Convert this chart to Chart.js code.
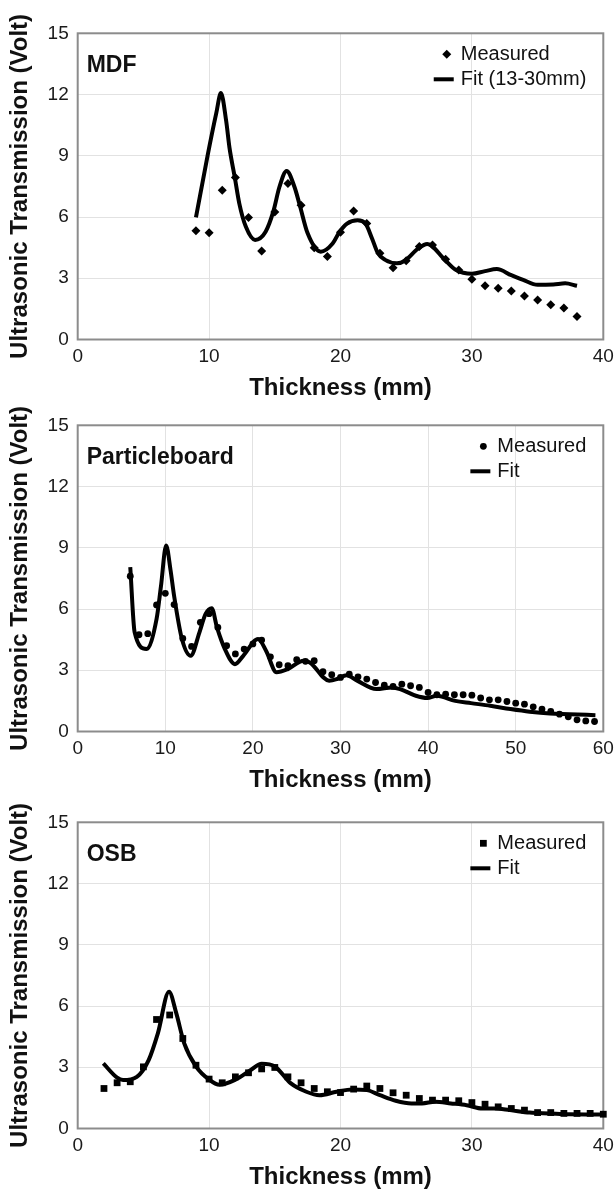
<!DOCTYPE html>
<html>
<head>
<meta charset="utf-8">
<script src="https://cdn.jsdelivr.net/npm/chart.js@4.4.1/dist/chart.umd.min.js"></script>
<style>
    html, body { margin: 0; padding: 0; background: #fff; }
    #wrap { position: relative; width: 615px; height: 1192px; overflow: hidden; }
    canvas { position: absolute; left: 0; }
</style>
</head>
<body>
<div id="wrap">
    <canvas id="chartMdf" width="615" height="400" style="top:0px"></canvas>
    <canvas id="chartPb" width="615" height="400" style="top:392px"></canvas>
    <canvas id="chartOsb" width="615" height="400" style="top:789px"></canvas>
</div>
<script>
// valores

// MDF
const mdfThickness = [9, 10, 11, 12, 13, 14, 15, 16, 17, 18, 19, 20, 21, 22, 23, 24, 25, 26, 27, 28, 29, 30, 31, 32, 33, 34, 35, 36, 37, 38]
const mdfMeasured = [5.33, 5.23, 7.31, 7.93, 5.98, 4.33, 6.25, 7.64, 6.58, 4.50, 4.06, 5.25, 6.30, 5.68, 4.22, 3.52, 3.86, 4.55, 4.63, 3.93, 3.40, 2.95, 2.63, 2.51, 2.38, 2.13, 1.94, 1.70, 1.54, 1.13]
const mdfFitX = [9, 9.9, 10.55, 10.9, 11.3, 11.55, 11.95, 12.3, 12.8, 13.5, 14.3, 14.9, 15.35, 15.9, 16.5, 16.9, 17.5, 18.5, 19.4, 19.9, 20.5, 21.3, 21.9, 22.4, 22.85, 23.4, 24.3, 24.9, 25.9, 26.6, 27.9, 28.8, 30, 31, 31.9, 33, 33.9, 35, 36.2, 37.1, 38]
const mdfFitY = [5.98, 9.06, 11.1, 12.07, 10.7, 9.4, 7.96, 6.66, 5.52, 4.88, 5.28, 6.3, 7.47, 8.26, 7.47, 6.58, 5.2, 4.3, 4.7, 5.25, 5.68, 5.84, 5.68, 4.95, 4.22, 3.9, 3.73, 3.86, 4.45, 4.68, 3.93, 3.4, 3.22, 3.35, 3.45, 3.15, 2.92, 2.68, 2.7, 2.75, 2.63]

// Particleboard
const pbThickness = [6, 7, 8, 9, 10, 11, 12, 13, 14, 15, 16, 17, 18, 19, 20, 21, 22, 23, 24, 25, 26, 27, 28, 29, 30, 31, 32, 33, 34, 35, 36, 37, 38, 39, 40, 41, 42, 43, 44, 45, 46, 47, 48, 49, 50, 51, 52, 53, 54, 55, 56, 57, 58, 59]
const pbMeasured = [7.61, 4.74, 4.79, 6.2, 6.77, 6.22, 4.56, 4.17, 5.35, 5.77, 5.1, 4.2, 3.8, 4.04, 4.29, 4.48, 3.66, 3.27, 3.22, 3.52, 3.44, 3.47, 2.93, 2.78, 2.65, 2.81, 2.68, 2.57, 2.4, 2.27, 2.21, 2.32, 2.24, 2.16, 1.91, 1.8, 1.83, 1.8, 1.8, 1.78, 1.64, 1.55, 1.55, 1.47, 1.39, 1.34, 1.21, 1.1, 0.98, 0.85, 0.72, 0.57, 0.52, 0.49]
const pbFitX = [6, 6.5, 7.85, 9, 9.5, 10.1, 10.6, 11, 11.9, 12.9, 13.9, 14.6, 15.3, 15.9, 16.8, 17.95, 18.9, 20.6, 21.5, 22.7, 24, 25.8, 26.5, 28.7, 29.6, 30.7, 31.9, 34.1, 35.9, 36.8, 38.6, 39.9, 41, 43.1, 44.9, 47.1, 49.4, 51.6, 53.9, 56.1, 59.1]
const pbFitY = [8.05, 4.86, 4.04, 5.5, 7.1, 9.11, 7.9, 6.66, 4.53, 3.71, 4.86, 5.76, 6.04, 5.1, 4.04, 3.3, 3.71, 4.53, 3.96, 2.9, 3.06, 3.47, 3.38, 2.49, 2.57, 2.76, 2.49, 2.08, 2.16, 2.08, 1.75, 1.64, 1.75, 1.5, 1.39, 1.26, 1.1, 0.97, 0.88, 0.85, 0.8]

// OSB
const osbThickness = [2, 3, 4, 5, 6, 7, 8, 9, 10, 11, 12, 13, 14, 15, 16, 17, 18, 19, 20, 21, 22, 23, 24, 25, 26, 27, 28, 29, 30, 31, 32, 33, 34, 35, 36, 37, 38, 39, 40]
const osbMeasured = [1.96, 2.24, 2.29, 3.02, 5.34, 5.56, 4.41, 3.1, 2.42, 2.24, 2.53, 2.73, 2.92, 2.99, 2.53, 2.24, 1.96, 1.8, 1.76, 1.93, 2.08, 1.96, 1.75, 1.63, 1.47, 1.39, 1.39, 1.36, 1.27, 1.19, 1.06, 0.98, 0.9, 0.78, 0.78, 0.74, 0.74, 0.74, 0.7]
const osbFitX = [1.95, 3, 3.45, 4.5, 5.4, 6.1, 6.95, 7.5, 8.1, 9, 10, 10.8, 12, 13.2, 14, 15, 16.2, 17.4, 18.4, 19.7, 20.9, 22, 23, 24.2, 25.4, 26.2, 27.2, 28.4, 29.6, 30.8, 31.7, 32.9, 34.4, 35.9, 37.4, 40]
const osbFitY = [3.19, 2.49, 2.37, 2.53, 3.35, 4.66, 6.7, 5.65, 4.18, 3.04, 2.39, 2.14, 2.39, 2.88, 3.17, 3.04, 2.22, 1.8, 1.63, 1.8, 1.91, 1.88, 1.63, 1.36, 1.23, 1.23, 1.31, 1.23, 1.14, 0.98, 0.98, 0.9, 0.78, 0.74, 0.7, 0.69]

const yTicks = [0, 3, 6, 9, 12, 15]

const FONT = '"Liberation Sans", Arial, Helvetica, sans-serif'
Chart.defaults.font.family = FONT
Chart.defaults.color = '#1a1a1a'

const pares = (xs, ys) => xs.map((x, i) => ({ x: x, y: ys[i] }))

// moldura cinza em volta da area do grafico
const moldura = {
    id: 'moldura',
    beforeDatasetsDraw(chart) {
        const { ctx, chartArea: a } = chart
        ctx.save()
        ctx.strokeStyle = '#8c8c8c'
        ctx.lineWidth = 2
        ctx.strokeRect(a.left, a.top, a.right - a.left, a.bottom - a.top)
        ctx.restore()
    }
}

function marcador(ctx, estilo, r, x, y) {
    ctx.beginPath()
    if (estilo === 'circle') {
        ctx.arc(x, y, r, 0, Math.PI * 2)
    } else if (estilo === 'rect') {
        const s = r * Math.SQRT1_2
        ctx.rect(x - s, y - s, 2 * s, 2 * s)
    } else {
        ctx.moveTo(x, y - r)
        ctx.lineTo(x + r, y)
        ctx.lineTo(x, y + r)
        ctx.lineTo(x - r, y)
        ctx.closePath()
    }
    ctx.fill()
}

// nome do painel e legenda dentro da area do grafico
const legendaInterna = {
    id: 'legendaInterna',
    afterDraw(chart, args, opts) {
        const { ctx, chartArea: a } = chart
        ctx.save()
        ctx.fillStyle = '#111'
        ctx.textBaseline = 'middle'
        ctx.font = 'bold 23px ' + FONT
        ctx.fillText(opts.painel, a.left + 9, a.top + 32)

        ctx.font = '20px ' + FONT
        const textos = chart.data.datasets.map(d => d.label)
        const largura = Math.max(...textos.map(t => ctx.measureText(t).width))
        const tx = a.right - 17 - largura
        chart.data.datasets.forEach((ds, i) => {
            const y = a.top + 21 + i * 25
            ctx.fillStyle = '#000'
            if (ds.showLine === false) {
                marcador(ctx, ds.pointStyle, ds.pointRadius, tx - 14, y)
            } else {
                ctx.strokeStyle = '#000'
                ctx.lineWidth = 4
                ctx.beginPath()
                ctx.moveTo(tx - 27, y)
                ctx.lineTo(tx - 7, y)
                ctx.stroke()
            }
            ctx.fillStyle = '#111'
            ctx.fillText(ds.label, tx, y)
        })
        ctx.restore()
    }
}

function montarGrafico(id, painel, xMax, medido, ajuste, estilo, raio, rotuloAjuste) {
    return new Chart(document.getElementById(id), {
        type: 'scatter',
        data: {
            datasets: [{
                label: 'Measured',
                data: medido,
                showLine: false,
                pointStyle: estilo,
                pointRadius: raio,
                pointHoverRadius: raio,
                pointBorderWidth: 0,
                backgroundColor: '#000',
                borderColor: '#000',
                clip: false
            }, {
                label: rotuloAjuste,
                data: ajuste,
                showLine: true,
                borderColor: '#000',
                borderWidth: 4,
                pointRadius: 0,
                cubicInterpolationMode: 'monotone',
                fill: false
            }]
        },
        options: {
            responsive: false,
            animation: false,
            layout: { padding: { top: 33.3, right: 11.7, bottom: 0, left: 0 } },
            plugins: {
                legend: { display: false },
                tooltip: { enabled: false },
                legendaInterna: { painel: painel }
            },
            scales: {
                x: {
                    type: 'linear',
                    min: 0,
                    max: xMax,
                    ticks: { stepSize: 10, padding: 6, font: { size: 19 } },
                    grid: { color: '#e2e2e2', drawTicks: false },
                    border: { display: false },
                    title: {
                        display: true,
                        text: 'Thickness (mm)',
                        color: '#111',
                        font: { size: 24, weight: 'bold', lineHeight: 1 },
                        padding: 0
                    },
                    afterFit(scale) {
                        scale.height = 60.5
                        scale.paddingLeft = 0
                        scale.paddingRight = 0
                    }
                },
                y: {
                    min: 0,
                    max: 15,
                    afterBuildTicks(scale) { scale.ticks = yTicks.map(v => ({ value: v })) },
                    ticks: { padding: 9, font: { size: 19 } },
                    grid: { color: '#e2e2e2', drawTicks: false },
                    border: { display: false },
                    title: {
                        display: true,
                        text: 'Ultrasonic Transmission (Volt)',
                        color: '#111',
                        font: { size: 24, weight: 'bold', lineHeight: 1 },
                        padding: { top: 8, bottom: 0 }
                    },
                    afterFit(scale) { scale.width = 77.7 }
                }
            }
        },
        plugins: [moldura, legendaInterna]
    })
}

montarGrafico('chartMdf', 'MDF', 40,
    pares(mdfThickness, mdfMeasured), pares(mdfFitX, mdfFitY), 'rectRot', 4.5, 'Fit (13-30mm)')
montarGrafico('chartPb', 'Particleboard', 60,
    pares(pbThickness, pbMeasured), pares(pbFitX, pbFitY), 'circle', 3.4, 'Fit')
montarGrafico('chartOsb', 'OSB', 40,
    pares(osbThickness, osbMeasured), pares(osbFitX, osbFitY), 'rect', 4.8, 'Fit')
</script>
</body>
</html>
